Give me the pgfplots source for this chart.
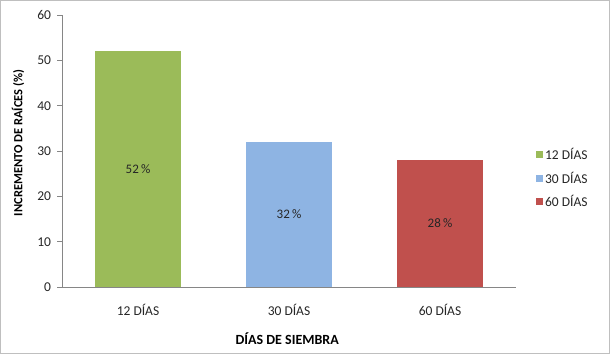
\documentclass[border=0pt]{standalone}
\usepackage{pgfplots}
\pgfplotsset{compat=1.18}
\usepackage{fontspec}
\setmainfont{Carlito}
\definecolor{cgreen}{HTML}{9BBB59}
\definecolor{cblue}{HTML}{8EB4E3}
\definecolor{cred}{HTML}{C0504D}
\definecolor{axgray}{HTML}{868686}
\begin{document}
\begin{tikzpicture}[x=1pt,y=1pt]
\path[use as bounding box] (0,0) rectangle (610,354);
\draw[black!25, line width=0.8pt] (0.5,0.5) rectangle (609.5,353.5);
\begin{axis}[
  at={(62.5pt,67pt)}, anchor=south west,
  scale only axis, width=453pt, height=272pt,
  xmin=-0.5, xmax=2.5, ymin=0, ymax=60,
  axis x line*=bottom, axis y line*=left,
  axis line style={-, draw=axgray, line width=0.8pt},
  xtick={0,1,2}, xticklabels={12 DÍAS,30 DÍAS,60 DÍAS},
  ytick={0,10,...,60},
  x tick style={draw=none},
  y tick style={draw=axgray, line width=0.8pt},
  tick align=outside, major tick length=5pt,
  /pgf/number format/assume math mode=true,
  tick label style={font=\fontsize{13.5}{16}\selectfont, text=black!85},
  yticklabel style={anchor=east, xshift=-3pt},
  xticklabel style={anchor=center, yshift=-18pt},
  ylabel={INCREMENTO DE RAÍCES (\%)},
  xlabel={DÍAS DE SIEMBRA},
  every axis y label/.style={at={(axis description cs:-0.098,0.53)}, rotate=90, anchor=center, font=\bfseries\fontsize{12.5}{15}\selectfont},
  every axis x label/.style={at={(axis description cs:0.496,-0.191)}, anchor=center, font=\bfseries\fontsize{14}{16}\selectfont},
  ybar, bar width=0.57,
  legend style={draw=none, at={(1.045,0.40)}, anchor=west, font=\fontsize{13.5}{16}\selectfont, text=black!85, row sep=7pt, inner sep=0pt},
  legend cell align=left,
  legend image code/.code={\fill[#1] (0pt,-3.5pt) rectangle (7pt,3.5pt);},
]
\addplot[fill=cgreen, draw=none, bar shift=0pt] coordinates {(0,52)};
\addplot[fill=cblue, draw=none, bar shift=0pt] coordinates {(1,32)};
\addplot[fill=cred, draw=none, bar shift=0pt] coordinates {(2,28)};
\legend{12 DÍAS,30 DÍAS,60 DÍAS}
\node[font=\fontsize{13}{15}\selectfont, text=black!85] at (axis cs:0,26) {52\,\%};
\node[font=\fontsize{13}{15}\selectfont, text=black!85] at (axis cs:1,16) {32\,\%};
\node[font=\fontsize{13}{15}\selectfont, text=black!85] at (axis cs:2,14) {28\,\%};
\end{axis}
\end{tikzpicture}
\end{document}
